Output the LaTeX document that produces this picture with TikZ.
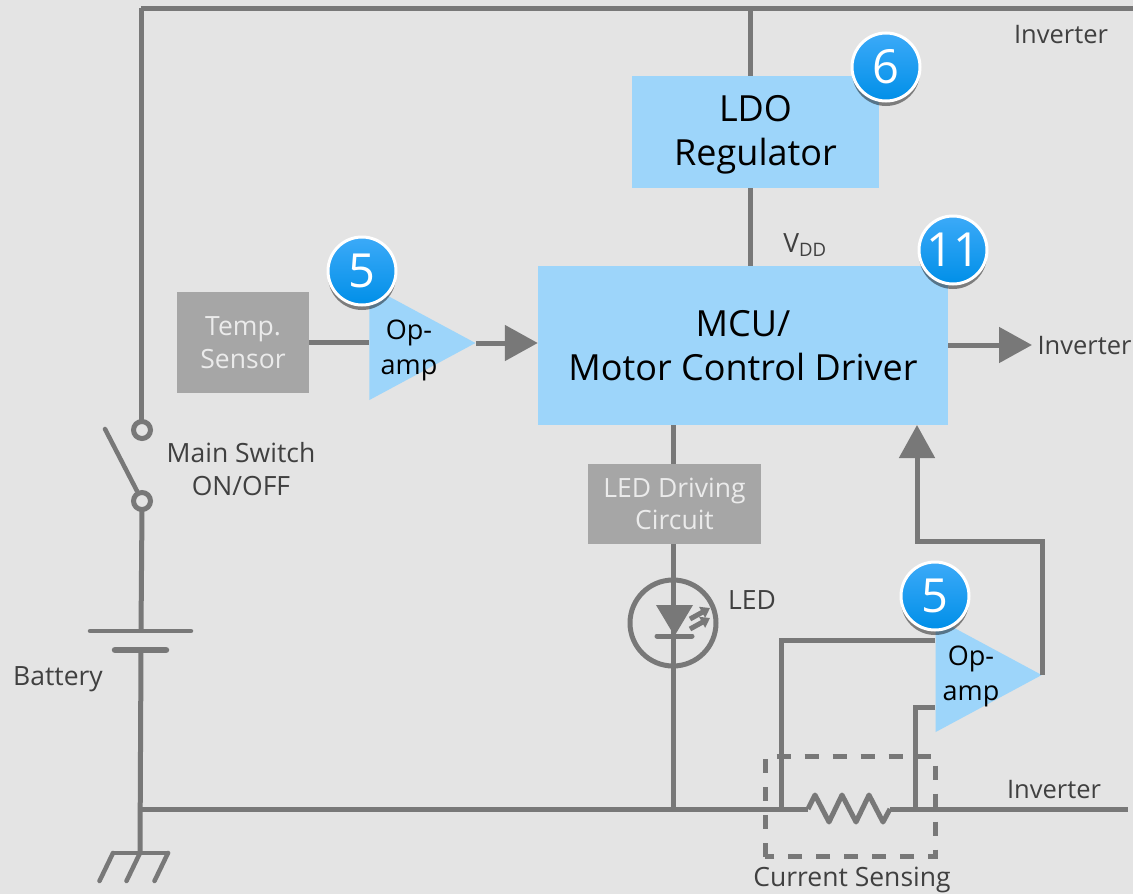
\documentclass[tikz,border=0pt]{standalone}
\usepackage{fontspec}
\setmainfont{Open Sans}
\usetikzlibrary{arrows.meta,shadows,shapes.geometric}
\definecolor{panelgrey}{HTML}{E4E4E4}
\definecolor{wiregrey}{HTML}{787878}
\definecolor{boxgrey}{HTML}{A6A6A6}
\definecolor{boxblue}{HTML}{9DD5FA}
\definecolor{labelgrey}{HTML}{404040}
\definecolor{badgetop}{HTML}{3CAAF8}
\definecolor{badgebottom}{HTML}{008FE8}
\tikzset{
  wire/.style={draw=wiregrey, line width=5pt, line join=miter},
  headwire/.style={wire, -{Triangle[length=33pt,width=35pt]}},
  bluebox/.style={fill=boxblue, inner sep=0pt, align=center, text=black,
    font=\fontsize{36}{44}\selectfont},
  greybox/.style={fill=boxgrey, inner sep=0pt, align=center, text=white!92!black,
    font=\fontsize{26.5}{32.5}\selectfont},
  opamp/.style={shape=isosceles triangle, isosceles triangle stretches,
    fill=boxblue, inner sep=0pt, minimum width=114pt, minimum height=106pt},
  amptext/.style={align=center, text=black, inner sep=0pt,
    font=\fontsize{27}{35}\selectfont},
  note/.style={align=center, text=labelgrey, inner sep=0pt,
    font=\fontsize{26.5}{33}\selectfont},
  invnote/.style={note, font=\fontsize{25.5}{33}\selectfont},
  badge/.style={circle, draw=white, line width=3pt, minimum size=68pt, inner sep=0pt,
    top color=badgetop, bottom color=badgebottom, text=white,
    drop shadow={shadow xshift=0pt, shadow yshift=-5pt, opacity=0.45, fill=black},
    font=\fontsize{47}{47}\selectfont},
}
\begin{document}
\begin{tikzpicture}[x=1pt, y=-1pt]
  \useasboundingbox (0,0) rectangle (1133,894);
  \fill [panelgrey] (0,0) rectangle (1133,894);

  % boxes
  \node (ldo) [bluebox, minimum width=247pt, minimum height=112pt] at (755.5,132) {};
  \node (ldotext) [bluebox, fill=none] at (755.5,135) {LDO\\Regulator};
  \node (mcu) [bluebox, minimum width=410pt, minimum height=159pt, align=center] at (743,345.5) {MCU/\\Motor Control Driver};
  \node (temp) [greybox, minimum width=132pt, minimum height=101pt] at (243,342.5) {Temp.\\Sensor};
  \node (driving) [greybox, minimum width=173pt, minimum height=80pt] at (674.5,504) {LED Driving\\Circuit};

  % op-amps
  \node (ampa) [opamp] at (403.5,343) {};
  \node (ampb) [opamp] at (969.8,675) {};
  \node (ampatext) [amptext] at (409,350) {Op-\\amp};
  \node (ampbtext) [amptext] at (971,676) {Op-\\amp};

  % free ends and corners
  \coordinate (topleft) at (141,8);
  \coordinate (topright) at (1133,8);
  \coordinate (switchtop) at (142,430);
  \coordinate (switchbottom) at (142,501);
  \coordinate (bladeend) at (105,429);
  \coordinate (batterylong) at (141,631);
  \coordinate (batteryshort) at (141,650);
  \coordinate (groundtop) at (140,853);
  \coordinate (rail) at (140,809);
  \coordinate (railend) at (1128,809);
  \coordinate (railbreakl) at (808,809);
  \coordinate (railbreakr) at (890,809);
  \coordinate (ledcentre) at (673,623);
  \coordinate (outend) at (1032,345);

  % supply and ground lines
  \draw [wire] (topleft) -- (topright);
  \draw [wire] (topleft) -- (141,421);
  \draw [wire] (ldo.north) ++(-5.5,0) -- ++(0,-68);
  \draw [wire] (ldo.south) ++(-5.5,0) -- ++(0,78);
  \draw [wire] (142,510) -- (batterylong);
  \draw [wire] (batteryshort) -- (groundtop);
  \draw [wire] (rail) -- (railbreakl);
  \draw [wire] (railbreakr) -- (railend);
  \draw [wire] (673,425) -- (673,464);
  \draw [wire] (673,544) -- (673,809);

  % switch
  \draw [wire, line width=4.5pt, line cap=round] (bladeend) -- (137,491);
  \foreach \pos in {switchtop,switchbottom}
    \draw [wire, fill=panelgrey] (\pos) circle (8.5);

  % battery
  \draw [wire, line width=4.5pt, line cap=round] (90,631) -- (191,631);
  \draw [wire, line width=6.5pt, line cap=round] (115,650) -- (166,650);

  % ground
  \draw [wire, line width=4.5pt, line cap=round] (113,853) -- (168,853);
  \foreach \x in {113,140,168}
    \draw [wire, line width=4.5pt, line cap=round] (\x,853) -- (\x-13.5,881);

  % signal lines
  \draw [wire] (temp.east) -- (369,342.5);
  \draw [headwire] (ampa.apex) -- (mcu.west |- ampa.apex);
  \draw [headwire] (948,345) -- (outend);
  \draw [headwire] (ampb.apex) |- (917,541) -- (917,425);
  \draw [wire] (935,640) -- (781,640) -- (781,809);
  \draw [wire] (935,707) -- (915,707) -- (915,809);

  % sense resistor
  \draw [wire, line join=round] (railbreakl) -- (815,795) -- (829,822) -- (842,795)
    -- (856,822) -- (869,795) -- (883,822) -- (railbreakr);
  \draw [wire, dash pattern=on 14pt off 14pt] (765,856.5) -- (765,756) -- (935,756) -- (935,856.5) -- cycle;

  % LED
  \draw [wire] (ledcentre) circle (43);
  \fill [wiregrey] (656,605) -- (693,605) -- (674.5,636) -- cycle;
  \draw [wire, line cap=round] (657,636) -- (692,636);
  \foreach \dy in {0,10}
    \draw [wiregrey, line width=5pt, -{Triangle[length=9pt,width=12pt]}] (690,619+\dy) -- (710,608+\dy);

  % labels
  \node (inva) [invnote] at (1061,35) {Inverter};
  \node (invb) [invnote] at (1084.5,346) {Inverter};
  \node (invc) [invnote] at (1054,790) {Inverter};
  \node (vdd) [note] at (805,245) {V\textsubscript{DD}};
  \node (swlabel) [note] at (241,469) {Main Switch\\ON/OFF};
  \node (batlabel) [note] at (58,679) {Battery};
  \node (ledlabel) [note] at (752,600) {LED};
  \node (senselabel) [note] at (852,880) {Current Sensing};

  % number badges
  \node (badgea) [badge] at (362,271) {5};
  \node (badgeb) [badge] at (886,67) {6};
  \node (badgec) [badge] at (953,250) {11};
  \node (badged) [badge] at (935,596) {5};
\end{tikzpicture}
\end{document}
